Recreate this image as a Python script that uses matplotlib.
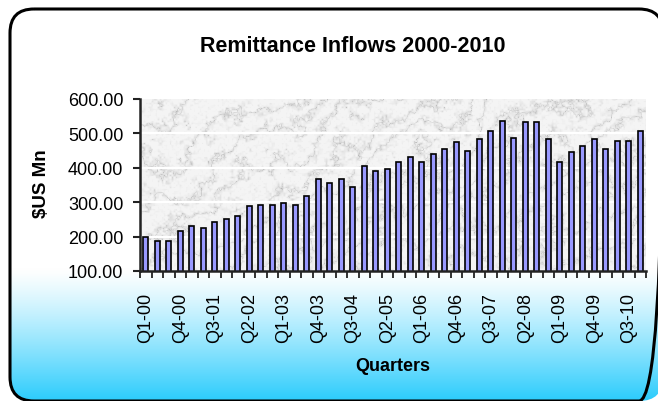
import numpy as np
import matplotlib
matplotlib.use("Agg")
import matplotlib.pyplot as plt
from matplotlib.patches import FancyBboxPatch

plt.rcParams['font.family'] = ['Liberation Sans', 'DejaVu Sans']

# Quarterly remittance inflows, $US millions
years = list(range(2000, 2011))
quarters = [f"Q{q}-{y % 100:02d}" for y in years for q in range(1, 5)]
inflows = [200, 187, 187, 216, 232, 226, 241, 250, 261, 289, 293, 293,
           298, 293, 318, 367, 357, 367, 343, 406, 391, 396, 416, 430,
           416, 440, 454, 474, 450, 483, 508, 537, 488, 532, 532, 483,
           416, 445, 464, 483, 454, 479, 479, 508]
label_every = 3
y_ticks = [100, 200, 300, 400, 500, 600]

W, H, DPI = 658, 402, 100
fig = plt.figure(figsize=(W / DPI, H / DPI), dpi=DPI)
fig.patch.set_facecolor('white')

# Background panel: rounded frame filled with a white-to-sky-blue gradient
bg = fig.add_axes([0, 0, 1, 1], zorder=-5)
bg.set_xlim(0, W)
bg.set_ylim(H, 0)
bg.axis('off')
yy = np.linspace(0, H, 400)[:, None]
t = np.clip((yy - 270) / (H - 270), 0, 1) ** 1.2
top = np.array([1.0, 1.0, 1.0])
bot = np.array([0.17, 0.80, 0.99])
grad = (top * (1 - t[..., None]) + bot * t[..., None]) * np.ones((1, 2, 1))
frame = FancyBboxPatch((10, 10), 653, 392,
                       boxstyle="round,pad=0,rounding_size=24",
                       fc='none', ec='black', lw=2.2)
bg.add_patch(frame)
im = bg.imshow(grad, extent=(0, W, H, 0), aspect='auto', zorder=0)
im.set_clip_path(frame)

# Plot area
x0, x1, ytop, ybot = 140, 646, 100, 272
ax = fig.add_axes([x0 / W, 1 - ybot / H, (x1 - x0) / W, (ybot - ytop) / H])
n = len(inflows)
ax.set_xlim(-0.5, n - 0.5)
ax.set_ylim(y_ticks[0], y_ticks[-1])


def value_noise(h, w, cell, rng):
    gh, gw = h // cell + 3, w // cell + 3
    g = rng.random((gh, gw))
    yv = np.arange(h) / cell
    xv = np.arange(w) / cell
    iy = yv.astype(int)
    ix = xv.astype(int)
    fy = yv - iy
    fx = xv - ix
    fy = (fy * fy * (3 - 2 * fy))[:, None]
    fx = (fx * fx * (3 - 2 * fx))[None, :]
    a = g[np.ix_(iy, ix)]
    b = g[np.ix_(iy, ix + 1)]
    c = g[np.ix_(iy + 1, ix)]
    d = g[np.ix_(iy + 1, ix + 1)]
    return (a * (1 - fx) + b * fx) * (1 - fy) + (c * (1 - fx) + d * fx) * fy


# Marble-style texture for the plot background
rng = np.random.default_rng(5)
th, tw = ybot - ytop, x1 - x0
turb = sum(value_noise(th, tw, c, rng) / (i + 1)
           for i, c in enumerate([40, 20, 10, 5, 2]))
Y, X = np.mgrid[0:th, 0:tw]
phase = (X * 0.06 + Y * 0.09) + 5.0 * turb
vein = np.abs(np.sin(phase)) ** 0.22
fine = value_noise(th, tw, 2, rng)
gray = 0.68 + 0.26 * vein + 0.05 * fine
gray = np.clip(gray, 0, 0.96)
tex = np.dstack([gray, gray, gray])
ax.imshow(tex, extent=(-0.5, n - 0.5, y_ticks[0], y_ticks[-1]),
          aspect='auto', zorder=0, interpolation='bilinear')

for v in y_ticks[1:-1]:
    ax.axhline(v, color='white', lw=1.6, zorder=1)

ax.bar(np.arange(n), inflows, width=0.46, bottom=0, color='#9999FF',
       edgecolor='black', linewidth=1.2, zorder=2)
ax.set_ylim(y_ticks[0], y_ticks[-1])

for s in ['top', 'right']:
    ax.spines[s].set_visible(False)
for s in ['left', 'bottom']:
    ax.spines[s].set_linewidth(1.8)
    ax.spines[s].set_color('#222222')
    ax.spines[s].set_zorder(3)

ax.set_yticks(y_ticks)
ax.set_yticklabels([f"{v:.2f}" for v in y_ticks])
ax.tick_params(axis='y', direction='out', length=5, width=1.5,
               labelsize=13, pad=7, color='#222222')

major = list(range(0, n, label_every))
ax.set_xticks(major)
ax.set_xticklabels([quarters[i] for i in major], rotation=90, va='top')
ax.set_xticks(np.arange(-0.5, n, 1.0), minor=True)
ax.tick_params(axis='x', which='major', length=0, labelsize=13, pad=15)
ax.tick_params(axis='x', which='minor', direction='out', length=5,
               width=1.3, color='#222222')

fig.text(353 / W, 1 - 47 / H, 'Remittance Inflows 2000-2010',
         ha='center', va='center', fontsize=15.5, fontweight='bold')
fig.text(42 / W, 1 - 184 / H, '$US Mn', rotation=90, ha='center',
         va='center', fontsize=13.5, fontweight='bold')
fig.text(393 / W, 1 - 367 / H, 'Quarters', ha='center', va='center',
         fontsize=13, fontweight='bold')

fig.savefig('out.png', dpi=DPI)
